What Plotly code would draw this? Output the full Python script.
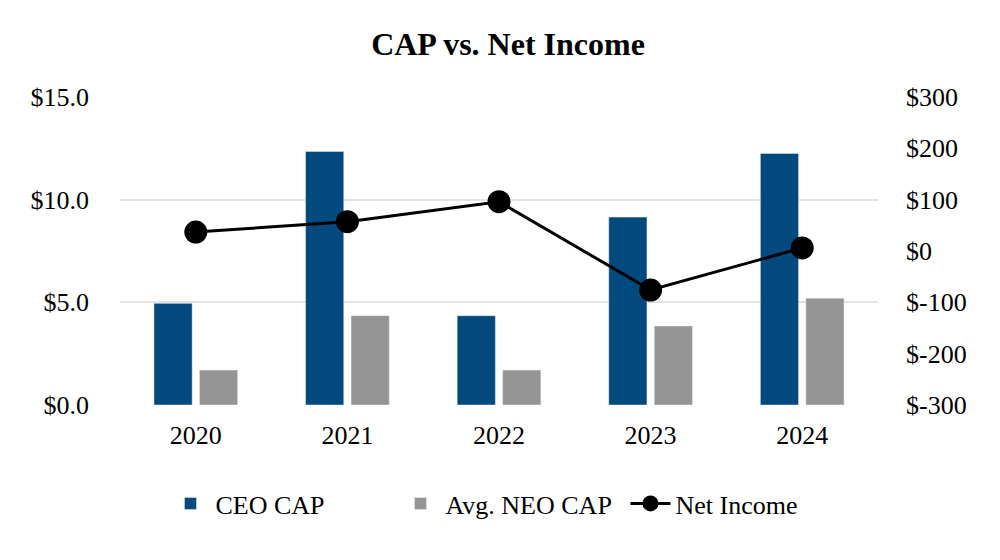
import plotly.graph_objects as go

years = ["2020", "2021", "2022", "2023", "2024"]
ceo_cap = [4.95, 12.35, 4.35, 9.15, 12.25]
neo_cap = [1.7, 4.35, 1.7, 3.85, 5.2]
net_income = [37, 57, 96, -76, 6]

left_ticks = [0, 5, 10, 15]
left_labels = ["$0.0", "$5.0", "$10.0", "$15.0"]
right_ticks = [-300, -200, -100, 0, 100, 200, 300]
right_labels = ["$-300", "$-200", "$-100", "$0", "$100", "$200", "$300"]

font_family = "Liberation Serif, Times New Roman, serif"

fig = go.Figure()
fig.add_trace(go.Bar(x=years, y=ceo_cap, name="CEO CAP", marker_color="#024a7e"))
fig.add_trace(go.Bar(x=years, y=neo_cap, name="Avg. NEO CAP", marker_color="#959595"))
fig.add_trace(go.Scatter(x=years, y=net_income, name="Net Income", yaxis="y2",
                         mode="lines+markers",
                         line=dict(color="black", width=3),
                         marker=dict(color="black", size=23)))

fig.update_layout(
    width=1000, height=560,
    paper_bgcolor="white", plot_bgcolor="white",
    font=dict(family=font_family, size=26, color="black"),
    title=dict(text="<b>CAP vs. Net Income</b>", x=0.5, xanchor="center",
               y=0.936, yanchor="middle", font=dict(size=32, family=font_family)),
    margin=dict(l=112, r=130, t=89, b=163),
    barmode="group", bargap=0.40, bargroupgap=0.16,
    xaxis=dict(showgrid=False, showline=False, ticks="", tickfont=dict(size=26),
               ticklabelstandoff=12),
    yaxis=dict(range=[0, 15], tickvals=left_ticks, ticktext=left_labels,
               showgrid=True, gridcolor="#e3e3e3", gridwidth=1.5,
               zeroline=False, showline=False, ticks="", ticklabelstandoff=30),
    yaxis2=dict(range=[-300, 300], tickvals=right_ticks, ticktext=right_labels,
                overlaying="y", side="right", showgrid=False, zeroline=False,
                showline=False, ticks="", ticklabelstandoff=27),
    legend=dict(orientation="h", x=0.06, xanchor="left", y=-0.32, yanchor="middle",
                font=dict(size=26), itemwidth=40, entrywidth=175,
                entrywidthmode="pixels", traceorder="normal"),
)

fig.write_html("out.html")
